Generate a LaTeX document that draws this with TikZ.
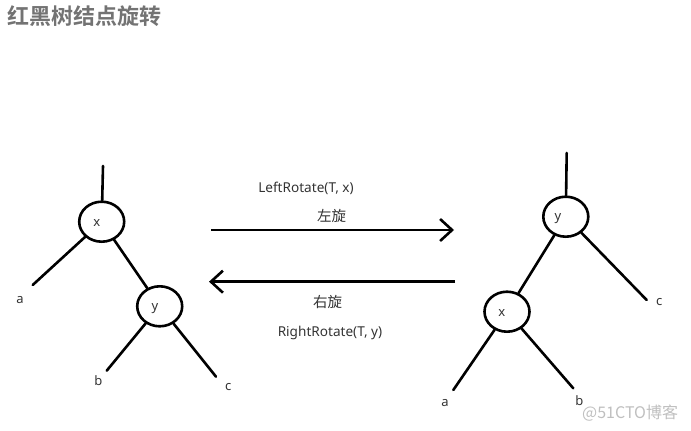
\documentclass[tikz,border=0pt]{standalone}
\usepackage{fontspec}
\setmainfont{Noto Sans}
\newfontfamily\cjk{Noto Sans CJK SC}
\newfontfamily\cjkb{Noto Sans CJK SC Bold}
\usetikzlibrary{shapes.geometric,arrows.meta}
\begin{document}
\begin{tikzpicture}[x=1pt,y=-1pt,
  treenode/.style={draw, ellipse, line width=2.6pt, minimum width=45pt, minimum height=40pt, inner sep=0pt},
  leaf/.style={font=\fontsize{13}{14}\selectfont, text=black!80, inner sep=0pt},
  branch/.style={line width=2.6pt, line cap=round},
  rot/.style={line width=2.6pt, -{Straight Barb[length=12pt,width=22pt]}},
  caplabel/.style={font=\fontsize{13.6}{15}\selectfont, text=black!80, inner sep=0pt},
  cn/.style={font=\cjk\fontsize{14.5}{16}\selectfont, text=black!80, inner sep=0pt}]
\useasboundingbox (0,0) rectangle (691,431);
% title
\node[anchor=west, inner sep=0pt, text=black!55, font=\cjkb\fontsize{22}{24}\selectfont] (title) at (7.5,16.5) {红黑树结点旋转};

% left tree
\coordinate (ltop) at (103,166);
\node[treenode] (lx) at (101.7,221.7) {};
\node[leaf] at (96.7,223.5) {x};
\node[treenode] (ly) at (159.7,306.3) {};
\node[leaf] at (155,309) {y};
\coordinate (lae) at (32.7,285);
\coordinate (lbe) at (106.7,370.7);
\coordinate (lce) at (216,376.7);
\node[leaf] (la) at (20,300.5) {a};
\node[leaf] (lb) at (98.3,381) {b};
\node[leaf] (lc) at (228.3,387.5) {c};
\draw[branch] (ltop) -- (lx);
\draw[branch] (lx) -- (lae);
\draw[branch] (lx) -- (ly);
\draw[branch] (ly) -- (lbe);
\draw[branch] (ly) -- (lce);

% arrows
\coordinate (r1s) at (211,230);
\coordinate (r1e) at (454,230);
\coordinate (r2s) at (455,281.7);
\coordinate (r2e) at (209,281.7);
\draw[rot] (r1s) -- (r1e);
\draw[rot] (r2s) -- (r2e);
\node[caplabel] (lrot) at (306,188) {LeftRotate(T, x)};
\node[cn] (zuo) at (331.7,215.5) {左旋};
\node[cn] (you) at (327.7,301.5) {右旋};
\node[caplabel] (rrot) at (330,333) {RightRotate(T, y)};

% right tree
\coordinate (rtop) at (566.7,153);
\node[treenode] (ry) at (565.8,216.7) {};
\node[leaf] at (558,218.5) {y};
\node[treenode] (rx) at (507,311.7) {};
\node[leaf] at (501.7,313) {x};
\coordinate (rae) at (453.3,390);
\coordinate (rbe) at (573.3,388.3);
\coordinate (rce) at (646.7,300);
\node[leaf] (ra) at (445,403) {a};
\node[leaf] (rb) at (579.3,401) {b};
\node[leaf] (rc) at (659.3,302.2) {c};
\draw[branch] (rtop) -- (ry);
\draw[branch] (ry) -- (rce);
\draw[branch] (ry) -- (rx);
\draw[branch] (rx) -- (rae);
\draw[branch] (rx) -- (rbe);

% watermark
\node[anchor=west, inner sep=0pt, text=black!25, font=\cjk\fontsize{16}{18}\selectfont] (wm) at (582,413) {@51CTO博客};
\end{tikzpicture}
\end{document}
